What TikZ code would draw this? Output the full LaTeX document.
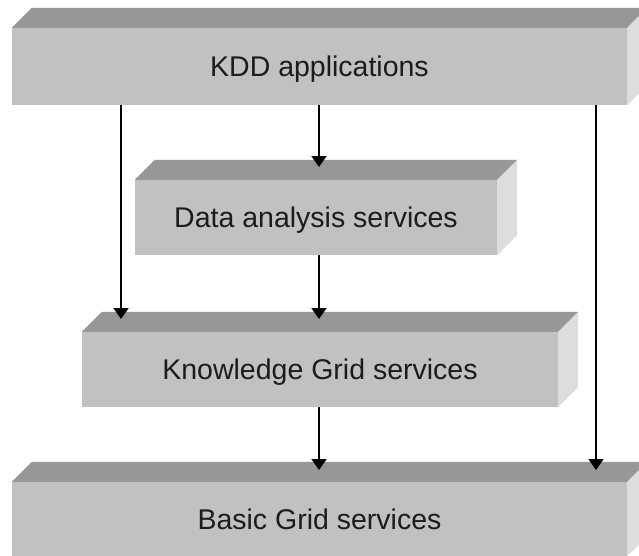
\documentclass[tikz,border=0pt]{standalone}
\usepackage{fontspec}
\setmainfont{Liberation Sans}
\usetikzlibrary{arrows.meta,calc}
\definecolor{frontc}{RGB}{193,193,193}
\definecolor{topc}{RGB}{151,151,151}
\definecolor{sidec}{RGB}{221,221,221}
\definecolor{txtc}{RGB}{28,28,28}
\tikzset{
  layer/.style={fill=frontc, inner sep=0pt, text=txtc, text height=20.4pt, text depth=0pt,
    font=\fontsize{28.5}{34}\selectfont},
  topface/.style={fill=topc},
  sideface/.style={fill=sidec},
  arr/.style={draw=black, line width=1.8pt, -{Triangle[length=11pt,width=15pt]}}
}
\newcommand{\boxfaces}[1]{%
  \fill[topface] (#1.north west) -- ++(20,-20) -- ($(#1.north east)+(20,-20)$) -- (#1.north east) -- cycle;
  \fill[sideface] (#1.north east) -- ++(20,-20) -- ($(#1.south east)+(20,-20)$) -- (#1.south east) -- cycle;
}
\begin{document}
\begin{tikzpicture}[x=1pt,y=-1pt]
\useasboundingbox (0,0) rectangle (639,555);
\clip (0,0) rectangle (639,555);
\fill[white] (0,0) rectangle (639,555);

\node[layer, minimum width=615pt, minimum height=77pt] (kdd) at (319.5,66.5) {KDD applications};
\boxfaces{kdd}
\node[layer, minimum width=362pt, minimum height=75pt] (da) at (316,217.5) {Data analysis services};
\boxfaces{da}
\node[layer, minimum width=476pt, minimum height=75pt] (kg) at (320,369.5) {Knowledge Grid services};
\boxfaces{kg}
\node[layer, minimum width=615pt, minimum height=74pt] (bg) at (319.5,519) {Basic Grid services};
\boxfaces{bg}

\coordinate (lt) at (121,319);
\coordinate (mt1) at (319,167);
\coordinate (mt2) at (319,319);
\coordinate (mt3) at (319,470);
\coordinate (rt) at (596,470);

\draw[arr] (kdd.south -| lt) -- (lt);
\draw[arr] (kdd.south -| mt1) -- (mt1);
\draw[arr] (da.south -| mt2) -- (mt2);
\draw[arr] (kg.south -| mt3) -- (mt3);
\draw[arr] (kdd.south -| rt) -- (rt);
\end{tikzpicture}
\end{document}
